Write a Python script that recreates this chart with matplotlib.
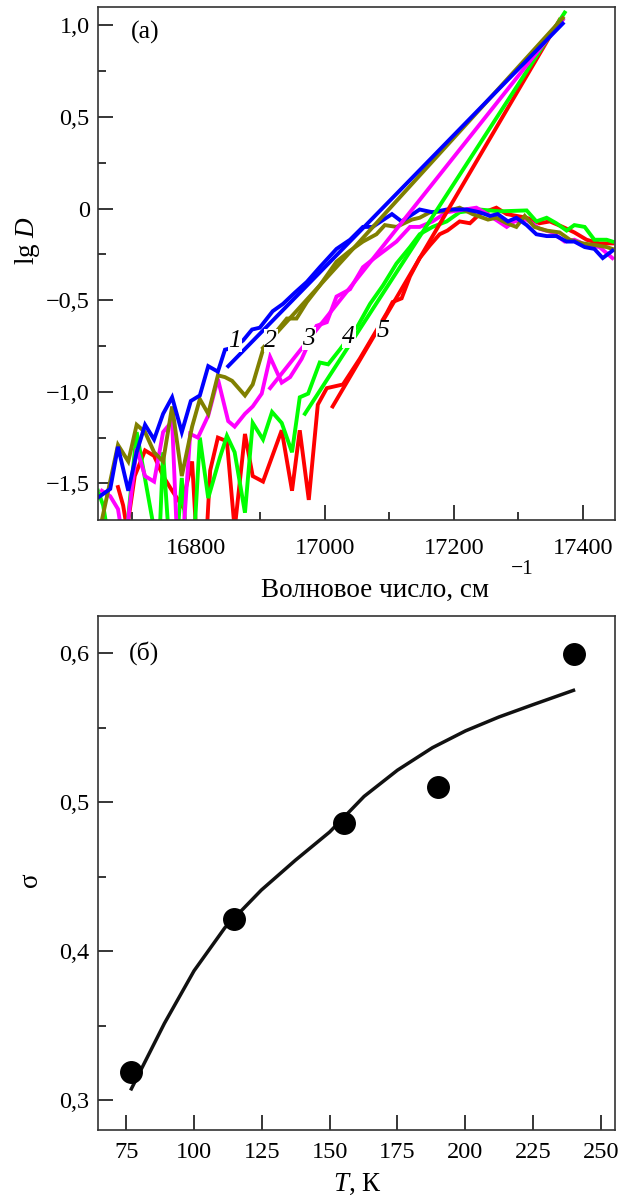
import matplotlib
matplotlib.use("Agg")
import matplotlib.pyplot as plt
from matplotlib.ticker import MultipleLocator

plt.rcParams['font.family'] = ['Liberation Serif', 'DejaVu Serif']
plt.rcParams['mathtext.fontset'] = 'custom'
plt.rcParams['mathtext.rm'] = 'Liberation Serif'
plt.rcParams['mathtext.it'] = 'Liberation Serif:italic'

# ---- panel (a): absorption spectra, lg D vs wavenumber ----
blue_x = [16643, 16667, 16679, 16695, 16708, 16721, 16735, 16749, 16763, 16778, 16792, 16806, 16819, 16834,
          16845, 16857, 16873, 16887, 16899, 16919, 16935, 16953, 16972, 16992, 17018, 17039, 17059, 17074,
          17104, 17119, 17147, 17167, 17189, 17220, 17240, 17256, 17268, 17284, 17297, 17313, 17328, 17344,
          17359, 17375, 17387, 17403, 17418, 17431, 17446]
blue_y = [-1.59, -1.53, -1.30, -1.54, -1.33, -1.18, -1.26, -1.12, -1.03, -1.22, -1.05, -1.02, -0.86, -0.89,
          -0.77, -0.76, -0.72, -0.66, -0.65, -0.56, -0.52, -0.46, -0.40, -0.32, -0.22, -0.17, -0.10, -0.10,
          -0.03, -0.07, -0.005, -0.02, -0.005, -0.005, -0.02, -0.04, -0.03, -0.07, -0.05, -0.09, -0.14, -0.15,
          -0.15, -0.18, -0.18, -0.21, -0.22, -0.27, -0.23]

olive_x = [16651, 16679, 16695, 16708, 16721, 16735, 16749, 16763, 16778, 16794, 16806, 16819, 16834, 16845,
           16856, 16876, 16888, 16904, 16918, 16941, 16956, 16972, 16992, 17018, 17039, 17059, 17080, 17093,
           17111, 17135, 17147, 17163, 17189, 17209, 17229, 17253, 17266, 17282, 17297, 17310, 17325, 17344,
           17364, 17380, 17400, 17421, 17437, 17446]
olive_y = [-1.75, -1.29, -1.38, -1.18, -1.22, -1.33, -1.38, -1.08, -1.46, -1.19, -1.04, -1.12, -0.91, -0.92,
           -0.94, -1.02, -0.96, -0.77, -0.70, -0.60, -0.60, -0.51, -0.42, -0.29, -0.23, -0.18, -0.14, -0.09,
           -0.10, -0.06, -0.05, -0.02, -0.015, 0.005, -0.03, -0.06, -0.05, -0.08, -0.10, -0.04, -0.10, -0.12,
           -0.13, -0.17, -0.19, -0.20, -0.21, -0.22]

magenta_x = [16654, 16667, 16679, 16684, 16693, 16708, 16721, 16735, 16749, 16763, 16770, 16781, 16791, 16803,
             16819, 16834, 16850, 16860, 16876, 16888, 16902, 16915, 16933, 16946, 16964, 16987, 17003, 17018,
             17039, 17059, 17077, 17096, 17111, 17132, 17147, 17167, 17189, 17235, 17252, 17282, 17294, 17313,
             17333, 17353, 17372, 17387, 17406, 17426, 17446]
magenta_y = [-1.54, -1.57, -1.64, -1.75, -1.75, -1.31, -1.46, -1.49, -1.22, -1.16, -1.75, -1.75, -1.23, -1.25,
             -1.13, -0.93, -1.16, -1.19, -1.12, -1.08, -1.01, -0.81, -0.95, -0.92, -0.82, -0.64, -0.62, -0.48,
             -0.44, -0.32, -0.27, -0.22, -0.18, -0.10, -0.10, -0.07, -0.02, 0.005, -0.03, -0.10, -0.07, -0.06,
             -0.11, -0.13, -0.18, -0.17, -0.20, -0.21, -0.27]

green_x = [16648, 16656, 16662, 16693, 16708, 16735, 16744, 16749, 16757, 16772, 16778, 16784, 16798, 16806,
           16819, 16837, 16848, 16860, 16876, 16888, 16904, 16918, 16933, 16949, 16961, 16974, 16992, 17005,
           17023, 17051, 17070, 17090, 17111, 17132, 17147, 17167, 17189, 17209, 17240, 17271, 17313, 17328,
           17344, 17359, 17375, 17387, 17403, 17418, 17437, 17446]
green_y = [-1.54, -1.62, -1.75, -1.75, -1.22, -1.75, -1.75, -1.33, -1.75, -1.75, -1.47, -1.75, -1.75, -1.25,
           -1.58, -1.36, -1.24, -1.33, -1.66, -1.17, -1.26, -1.11, -1.17, -1.33, -1.03, -1.01, -0.84, -0.85,
           -0.77, -0.64, -0.52, -0.42, -0.30, -0.21, -0.14, -0.10, -0.07, -0.02, -0.005, -0.015, -0.01, -0.07,
           -0.05, -0.08, -0.12, -0.09, -0.10, -0.17, -0.17, -0.18]

red_x = [16679, 16687, 16693, 16705, 16721, 16735, 16749, 16763, 16778, 16794, 16800, 16817, 16822, 16834,
         16848, 16860, 16876, 16888, 16904, 16933, 16949, 16961, 16975, 16989, 17003, 17028, 17054, 17096,
         17105, 17119, 17132, 17147, 17163, 17178, 17190, 17209, 17225, 17240, 17266, 17282, 17313, 17333,
         17349, 17369, 17387, 17406, 17426, 17446]
red_y = [-1.52, -1.62, -1.75, -1.46, -1.32, -1.35, -1.46, -1.54, -1.62, -1.38, -1.75, -1.75, -1.43, -1.25,
         -1.27, -1.75, -1.23, -1.46, -1.49, -1.21, -1.54, -1.21, -1.59, -1.07, -0.98, -0.96, -0.82, -0.57,
         -0.51, -0.49, -0.37, -0.27, -0.20, -0.14, -0.12, -0.07, -0.08, -0.03, 0.005, -0.03, -0.05, -0.08,
         -0.07, -0.10, -0.13, -0.17, -0.19, -0.19]

# straight extrapolation lines: start and end point for each curve
line_x = {'red': [17012, 17364], 'green': [16969, 17372], 'magenta': [16915, 17369],
          'olive': [16904, 17369], 'blue': [16850, 17369]}
line_y = {'red': [-1.08, 1.03], 'green': [-1.12, 1.07], 'magenta': [-0.98, 1.03],
          'olive': [-0.76, 1.04], 'blue': [-0.86, 1.01]}

curve_labels = ['1', '2', '3', '4', '5']
label_x = [16860, 16916, 16975, 17037, 17090]
label_y = [-0.72, -0.72, -0.71, -0.70, -0.67]

top_yticks = [-1.5, -1.0, -0.5, 0, 0.5, 1.0]
top_ylabels = ['\u22121,5', '\u22121,0', '\u22120,5', '0', '0,5', '1,0']
top_xticks = [16800, 17000, 17200, 17400]

# ---- panel (б): sigma vs temperature ----
T_pts = [76.9, 114.8, 155.2, 190.1, 240.2]
sigma_pts = [0.319, 0.4216, 0.4863, 0.5102, 0.5995]
T_fit = [76.9, 89.1, 100, 111.4, 124.8, 137.4, 150, 162.7, 175, 187.9, 200.1, 212.4, 225, 239.9]
sigma_fit = [0.3076, 0.3516, 0.3868, 0.4158, 0.441, 0.4611, 0.48, 0.5039, 0.5215, 0.5366, 0.5479,
             0.5572, 0.5655, 0.5751]
bot_yticks = [0.3, 0.4, 0.5, 0.6]
bot_ylabels = ['0,3', '0,4', '0,5', '0,6']
bot_xticks = [75, 100, 125, 150, 175, 200, 225, 250]

fs = 17.5
fs_lab = 19.5
W, H = 629, 1198
fig = plt.figure(figsize=(6.29, 11.98), dpi=100)

ax = fig.add_axes([0.1558, 0.5659, 0.8219, 0.4282])
series = [(red_x, red_y, 'red', '#ff0000'), (green_x, green_y, 'green', '#00ff00'),
          (magenta_x, magenta_y, 'magenta', '#ff00ff'), (olive_x, olive_y, 'olive', '#808000'),
          (blue_x, blue_y, 'blue', '#0000ff')]
for xs, ys, key, col in series:
    ax.plot(xs, ys, color=col, lw=2.8, solid_joinstyle='miter')
for xs, ys, key, col in series:
    ax.plot(line_x[key], line_y[key], color=col, lw=2.8)

for t, x, y in zip(curve_labels, label_x, label_y):
    ax.text(x, y, t, fontsize=fs + 1, style='italic', ha='center', va='center',
            bbox=dict(fc='white', ec='none', pad=0.3))
ax.text(16721, 0.96, '(a)', fontsize=fs + 1, ha='center', va='center')

ax.set_xlim(16648, 17450)
ax.set_ylim(-1.7, 1.1)
ax.set_xticks(top_xticks)
ax.set_xticklabels([str(v) for v in top_xticks])
ax.xaxis.set_minor_locator(MultipleLocator(100))
ax.set_yticks(top_yticks)
ax.set_yticklabels(top_ylabels)
ax.yaxis.set_minor_locator(MultipleLocator(0.25))

ax2 = fig.add_axes([0.1558, 0.0568, 0.8219, 0.429])
ax2.plot(T_fit, sigma_fit, color='#111111', lw=2.5)
ax2.plot(T_pts, sigma_pts, 'o', color='black', markersize=15.5)
ax2.text(81.7, 0.6, '(б)', fontsize=fs + 1, ha='center', va='center')
ax2.set_xlim(64.6, 255.2)
ax2.set_ylim(0.28, 0.625)
ax2.set_xticks(bot_xticks)
ax2.set_xticklabels([str(v) for v in bot_xticks])
ax2.set_yticks(bot_yticks)
ax2.set_yticklabels(bot_ylabels)
ax2.yaxis.set_minor_locator(MultipleLocator(0.05))

# axis titles placed in figure pixels
fig.text(28 / W, 1 - 240 / H, r'lg $D$', fontsize=fs_lab, rotation=90, ha='center', va='center')
fig.text(375 / W, 1 - 590 / H, 'Волновое число, см', fontsize=fs_lab, ha='center', va='center')
fig.text(522 / W, 1 - 569 / H, '\u22121', fontsize=fs - 2, ha='center', va='center')
fig.text(30 / W, 1 - 880 / H, '\u03c3', fontsize=fs_lab, rotation=90, ha='center', va='center')
fig.text(357 / W, 1 - 1184 / H, r'$T$, К', fontsize=fs_lab, ha='center', va='center')

for a in (ax, ax2):
    a.tick_params(which='major', direction='in', length=11, width=1.1, labelsize=fs, pad=6)
    a.tick_params(which='minor', direction='in', length=6, width=1.1)
    for s in a.spines.values():
        s.set_color('#333333')
        s.set_linewidth(1.2)
ax.tick_params(axis='x', which='major', pad=13)
ax2.tick_params(axis='x', which='major', pad=9)

fig.savefig('out.png', dpi=100)
